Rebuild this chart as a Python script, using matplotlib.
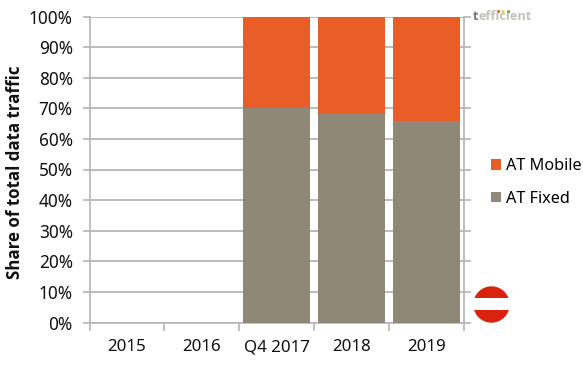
#!/usr/bin/env python

import matplotlib
matplotlib.use("Agg")
import matplotlib.pyplot as plt
import matplotlib.patches as mpatches
import numpy as np

plt.rcParams['font.family'] = ['Noto Sans', 'DejaVu Sans']

##the data
years = ["2015", "2016", "Q4 2017", "2018", "2019"]
at_fixed = [0, 0, 70, 68, 66]
at_mobile = [0, 0, 30, 32, 34]
y_ticks = [0, 10, 20, 30, 40, 50, 60, 70, 80, 90, 100]

W = 583
H = 372
GREY = "#b5b5b5"
FIXED = "#8f8778"
MOBILE = "#e95e26"

fig = plt.figure(figsize=(W / 100, H / 100), dpi=100)
ax = fig.add_axes([89.5 / W, 1 - 322.5 / H, 374.5 / W, 306 / H])

x = np.arange(len(years))
ax.set_axisbelow(True)
ax.yaxis.grid(True, color=GREY, linewidth=1.3)
b1 = ax.bar(x, at_fixed, width=0.9, color=FIXED, label="AT Fixed", zorder=3)
b2 = ax.bar(x, at_mobile, width=0.9, bottom=at_fixed, color=MOBILE, label="AT Mobile", zorder=3)

ax.set_xlim(-0.5, 4.5)
ax.set_ylim(0, 100)
ax.set_yticks(y_ticks)
ax.set_yticklabels([str(t) + "%" for t in y_ticks], fontsize=12.4, color="#111111")
##ticks sit on the boundaries between the categories so the labels go on minor ticks
ax.set_xticks(np.arange(-0.5, 5, 1))
ax.set_xticklabels([])
ax.set_xticks(x, minor=True)
ax.set_xticklabels(years, minor=True, fontsize=12.2, color="#111111")
ax.tick_params(axis="x", which="minor", length=0, pad=12)
ax.tick_params(axis="x", which="major", length=6, color=GREY, width=1.2)
ax.tick_params(axis="y", length=5, color=GREY, width=1.2, pad=7)

for side in ["top"]:
    ax.spines[side].set_visible(False)
for side in ["left", "right", "bottom"]:
    ax.spines[side].set_color(GREY)
    ax.spines[side].set_linewidth(1.2)
ax.tick_params(axis="y", right=True)

fig.text(15 / W, 1 - 172 / H, "Share of total data traffic", rotation=90, fontsize=12.2,
         fontweight="bold", family="Open Sans", ha="center", va="center", color="#111111")

##legend, mobile on top
fig.legend(handles=[b2, b1], labels=["AT Mobile", "AT Fixed"], loc="center left",
           bbox_to_anchor=(491 / W, 1 - 182.5 / H), frameon=False, fontsize=11.7,
           handlelength=0.6, handleheight=0.6, handletextpad=0.3, labelspacing=1.0,
           borderpad=0, borderaxespad=0)

##overlay in pixel coordinates for the logo and the flag
ov = fig.add_axes([0, 0, 1, 1], facecolor="none")
ov.set_xlim(0, W)
ov.set_ylim(H, 0)
ov.axis("off")

circle = mpatches.Circle((491.5, 304.5), 18.2, transform=ov.transData)
top = ov.add_patch(mpatches.Rectangle((470, 285), 44, 13.3, color="#d9230f", lw=0))
bottom = ov.add_patch(mpatches.Rectangle((470, 310), 44, 14, color="#d9230f", lw=0))
top.set_clip_path(circle)
bottom.set_clip_path(circle)

ov.text(473, 16.5, "t", fontsize=9.2, fontweight="bold", family="Open Sans", color="#7a7468", ha="left", va="center")
ov.text(478, 16.5, "efficient", fontsize=9.2, fontweight="bold", family="Open Sans", color="#c4c1b8", ha="left", va="center")
ov.scatter([498.5, 503, 508.5], [11.5, 11.5, 11.5], s=5, color=["#d9573a", "#f0d23c", "#4c9a3f"], lw=0)

fig.savefig("out.png", dpi=100)
